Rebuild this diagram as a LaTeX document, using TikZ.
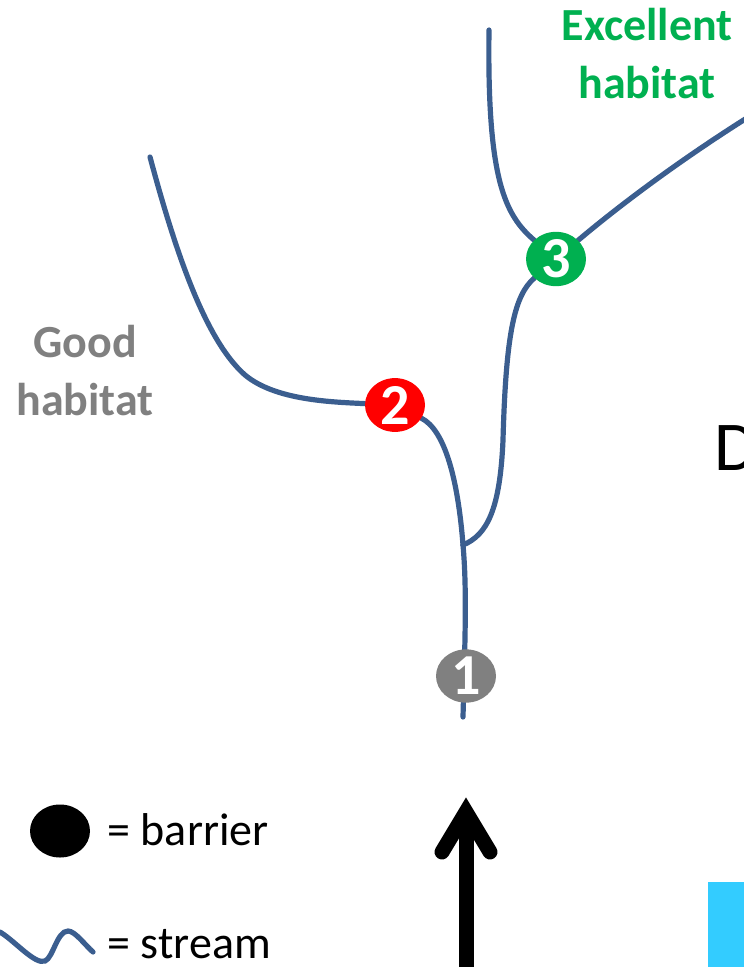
\documentclass[tikz,border=0pt]{standalone}
\usepackage{fontspec}
\setmainfont{Carlito}
\usetikzlibrary{calc}
\usetikzlibrary{shapes.geometric}
\usetikzlibrary{backgrounds}

\definecolor{streamblue}{RGB}{59,94,143}
\definecolor{goodgray}{RGB}{128,128,128}
\definecolor{exgreen}{RGB}{0,176,80}
\definecolor{skyblue}{RGB}{51,204,255}

\tikzset{
 barrier/.style={ellipse, minimum width=60pt, minimum height=53pt, inner sep=0pt, text=white, font=\fontsize{58}{58}\selectfont\bfseries},
 stream/.style={streamblue, line width=5.2pt, line cap=round},
 habitat/.style={align=center, font=\fontsize{46}{58}\selectfont\bfseries},
 keytext/.style={anchor=base west, font=\fontsize{46}{46}\selectfont}
}

\begin{document}
\begin{tikzpicture}[x=1pt, y=-1pt]
\useasboundingbox (0,0) rectangle (744,967);
\node[barrier, fill=goodgray] (b1) at (466,676) {1};
\node[barrier, fill=red] (b2) at (395,405) {2};
\node[barrier, fill=exgreen] (b3) at (556,259) {3};
\coordinate (mouth) at (463,717);
\coordinate (fork) at (463,545);
\coordinate (goodend) at (150,157);
\coordinate (exleft) at (489,30);
\coordinate (exright) at (750,116);
\begin{scope}[on background layer]
\draw[stream] (mouth) .. controls (465,640) and (467,590) .. (fork);
\draw[stream] (fork) .. controls (458,480) and (445,430) .. (b2);
\draw[stream] (fork) .. controls (487,535) and (500,510) .. (503,440) .. controls (506,330) and (515,295) .. (b3);
\draw[stream] (b2) .. controls (330,402) and (275,400) .. (245,375) .. controls (205,340) and (175,250) .. (goodend);
\draw[stream] (b3) .. controls (505,215) and (487,180) .. (exleft);
\draw[stream] (b3) .. controls (620,205) and (680,160) .. (exright);
\end{scope}
\node[habitat, text=goodgray] (good) at (85,371) {Good\\habitat};
\node[habitat, text=exgreen] (excellent) at (647,54) {Excellent\\habitat};
\node[anchor=base west, font=\fontsize{70}{70}\selectfont] (down) at (711,470) {D};
\node[barrier, fill=black] (keybar) at (60,831) {};
\node[keytext] (barlab) at (104,845) {= barrier};
\draw[stream] (0,932) .. controls (15,941) and (35,965) .. (45,961) .. controls (53,958) and (57,931) .. (68,931) .. controls (75,931) and (85,945) .. (93,952);
\node[keytext] (strlab) at (104,958) {= stream};
\coordinate (flowbot) at (466,967);
\coordinate (flowtop) at (466,812);
\draw[line width=15pt] (flowbot) -- ($(flowtop)+(0,10)$);
\draw[line width=15pt, line cap=round] ($(flowtop)+(-24,40)$) -- (flowtop) -- ($(flowtop)+(24,40)$);
\fill[skyblue] (708,882) rectangle (744,967);
\end{tikzpicture}
\end{document}
